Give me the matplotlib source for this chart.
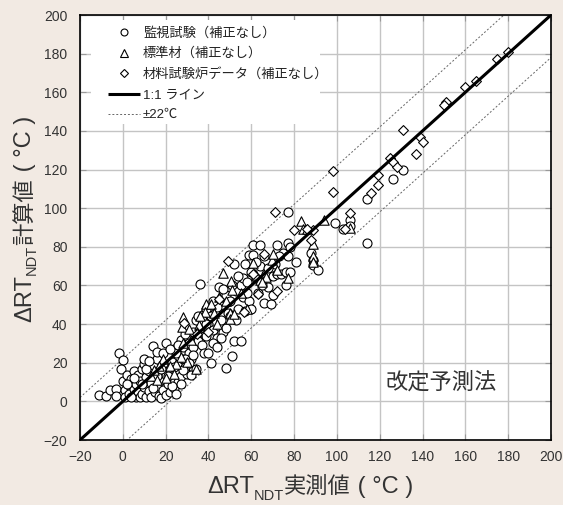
import matplotlib
matplotlib.use("Agg")
import matplotlib.pyplot as plt
from matplotlib.lines import Line2D
from matplotlib.patches import Rectangle

plt.rcParams['font.family'] = ['Liberation Sans', 'Noto Sans CJK JP']

# ---- data ----
surv_pts = [
    (-11, 3.5), (-8, 3), (-6, 6), (-3, 6.5), (-3, 3), (-2, 25), (0, 21.5), (-1, 16.5), (0, 10.5), (1, 6),
    (1, 2.5), (2, 13.5), (3, 8.5), (3, 4), (4, 11.5), (5, 15.5), (5, 6.5), (6, 9), (6, 2.5), (7, 5),
    (7, 13.5), (8, 10.5), (8, 2.5), (9, 16.5), (9, 4), (10, 7.5), (10, 19.5), (10, 22), (11, 12.5), (11, 2.5),
    (12, 5.5), (12, 15.5), (13, 9.5), (13, 2.5), (14, 28.5), (14, 19), (15, 12.5), (15, 5), (16, 8), (16, 22),
    (16, 25.5), (17, 3), (17, 15.5), (18, 11), (18, 2), (19, 6), (19, 19.5), (20, 30), (20, 13.5), (20, 3.5),
    (21, 9), (21, 23.5), (22, 16.5), (22, 5), (23, 12), (23, 20.5), (24, 7), (24, 27), (25, 15), (25, 25),
    (26, 10), (26, 19), (27, 32), (27, 13), (28, 22), (28, 28), (29, 18), (30, 34), (30, 14), (31, 25),
    (31, 30), (32, 22), (32, 13.5), (33, 36), (33, 28),
    (2, 9), (4, 2.5), (5, 12), (9, 9), (11, 17), (12, 21), (14, 7), (16, 13), (18, 17), (19, 25),
    (21, 13), (22, 27), (24, 18), (26, 29), (27, 9), (29, 22), (29, 35), (31, 20), (33, 24), (34, 17),
    (28, 16), (23, 8), (25, 4),
    (34, 42), (35, 31.5), (35, 44), (36, 38), (36, 61), (37, 29), (38, 25), (38, 45), (39, 34), (40, 40),
    (40, 25), (41, 20), (42, 37), (43, 46), (44, 33), (45, 39), (45, 59), (46, 50), (47, 36), (48, 38),
    (48, 17.5), (48, 55), (49, 46), (50, 52), (51, 23.5), (52, 31), (52, 71), (53, 57), (54, 48), (55, 31.5),
    (55, 60), (56, 54), (56, 64), (57, 71), (57, 47), (58, 62), (59, 76), (59, 52), (60, 48), (60, 67),
    (61, 81), (61, 76), (62, 64), (63, 56), (64, 81), (64, 70), (66, 51), (67, 66), (68, 59), (69, 50.5),
    (70, 55), (70, 65), (71, 71), (72, 81), (72, 66), (74, 66), (75, 77), (76, 67), (77, 98), (77, 82),
    (77, 75), (78, 67), (81, 72), (88, 77), (89, 73), (89, 70.5), (91, 68), (99, 92.5), (103, 89), (106, 94),
    (106, 91), (114, 105), (114, 82), (126, 115), (131, 120),
    (37, 42), (39, 48), (41, 44), (42, 30), (44, 49), (46, 42), (47, 58), (50, 44), (51, 60), (53, 42),
    (54, 65), (58, 56), (62, 72), (65, 60), (66, 75), (68, 69), (73, 75), (76, 60), (78, 80), (42, 52),
    (46, 33), (44, 28), (39, 40),
]
std_pts = [
    (83, 93.5), (94, 94), (84, 89), (86, 89), (89, 81.5), (89, 75), (89, 72), (77, 64), (69.5, 73), (70, 76.5),
    (61, 71.5), (62, 65.5), (64, 63), (67, 64.5), (47, 66.5), (50.5, 62.5), (51, 57.5), (50, 46), (50, 42.5), (39, 50.5),
    (41, 50.5), (42.5, 46), (38.5, 46.5), (35.5, 39.5), (34.5, 36), (28, 43.5), (27.5, 38.5), (31, 37.5), (34, 16.5), (30, 20.5),
    (25, 19.5), (19, 22), (17, 18.5), (14.5, 16), (13, 13), (16, 11), (22, 18.5), (27, 23), (45, 54), (52, 45),
    (58, 48), (106, 90), (72, 68), (65, 62), (55, 56), (48, 52), (36, 44), (32, 32), (24, 14), (20, 12),
    (28, 30), (44, 40),
]
mtr_pts = [
    (175, 177), (180, 181), (165, 166), (160, 162.5), (151, 155), (150, 153.5), (131, 140.5), (139, 137), (140, 134.5), (137, 128),
    (125, 126), (126, 124), (128, 121.5), (119, 117), (119, 112), (116, 108), (98, 119.5), (98, 108.5), (106, 97.5), (104, 89),
    (80, 88.5), (89, 88.5), (88, 83.5), (86, 89), (71, 98), (49, 72.5), (66, 76.5), (72, 57), (56.5, 46.5), (45, 53),
    (63, 55.5), (28.5, 40.5), (34.5, 35), (40, 36), (61, 66),
]
surv_x = [p[0] for p in surv_pts]; surv_y = [p[1] for p in surv_pts]
std_x = [p[0] for p in std_pts]; std_y = [p[1] for p in std_pts]
mtr_x = [p[0] for p in mtr_pts]; mtr_y = [p[1] for p in mtr_pts]

line_x = [-20, 200]
band = 22
ticks = list(range(-20, 201, 20))
legend_labels = ['監視試験（補正なし）', '標準材（補正なし）', '材料試験炉データ（補正なし）', '1:1 ライン', '±22℃']

W, H = 563, 505
fig = plt.figure(figsize=(W / 100, H / 100), dpi=100, facecolor='#f2eae3')
ax = fig.add_axes([80 / W, 1 - 440 / H, 471 / W, 425 / H])
ax.set_facecolor('white')
ax.set_xlim(-20, 200)
ax.set_ylim(-20, 200)
ax.set_xticks(ticks)
ax.set_yticks(ticks)
ax.grid(True, color='#c4c4c4', lw=1.0, zorder=0.5)
ax.set_axisbelow(True)
for s in ax.spines.values():
    s.set_color('black'); s.set_linewidth(1.2)
ax.tick_params(direction='in', length=4, color='#999999', top=True, right=True,
               labelsize=10, labelcolor='#333333')
ax.tick_params(axis='x', pad=7)
ax.tick_params(axis='y', pad=9)

# legend background (covers grid)
ax.add_patch(Rectangle((11 / 471, 1 - 109 / 425), 229 / 471, 104 / 425, transform=ax.transAxes,
                       facecolor='white', edgecolor='none', zorder=1))

ax.plot(line_x, [v + band for v in line_x], ls=(0, (2, 2)), color='#666666', lw=0.7, zorder=2)
ax.plot(line_x, [v - band for v in line_x], ls=(0, (2, 2)), color='#666666', lw=0.7, zorder=2)

mk = dict(facecolors='white', edgecolors='black', linewidths=0.8, zorder=3)
ax.scatter(surv_x, surv_y, marker='o', s=42, **mk)
ax.scatter(std_x, std_y, marker='^', s=46, **mk)
ax.scatter(mtr_x, mtr_y, marker='D', s=25, **mk)
ax.plot(line_x, line_x, color='black', lw=2.2, zorder=4)

handles = [
    Line2D([], [], ls='none', marker='o', ms=5, mfc='white', mec='black', mew=0.8),
    Line2D([], [], ls='none', marker='^', ms=5.5, mfc='white', mec='black', mew=0.8),
    Line2D([], [], ls='none', marker='D', ms=4, mfc='white', mec='black', mew=0.8),
    Line2D([], [], color='black', lw=2.2, solid_capstyle='butt'),
    Line2D([], [], color='#666666', lw=0.7, ls=(0, (2, 2))),
]
leg = ax.legend(handles, legend_labels, loc='upper left', bbox_to_anchor=(28 / 471, 1 - 12 / 425),
                frameon=False, fontsize=9.5, borderpad=0, borderaxespad=0, handlelength=2.4,
                handletextpad=0.25, labelspacing=0.6)
for t in leg.get_texts():
    t.set_color('#222222')
leg.set_zorder(6)

ax.text(148.5, 9.5, '改定予測法', fontsize=16, ha='center', va='center', color='#333333', zorder=6)

# x label pieces
tc = '#333333'
x1 = fig.text(207 / W, 12 / H, 'ΔRT', fontsize=17, ha='left', va='baseline', color=tc)
x2 = ax.annotate('NDT', xy=(1, 5), xycoords=(x1, 'figure pixels'), fontsize=10.5, ha='left', va='baseline', color=tc)
x3 = ax.annotate('実測値', xy=(1, 12), xycoords=(x2, 'figure pixels'), fontsize=16, ha='left', va='baseline', color=tc)
x4 = ax.annotate(' ( °C )', xy=(1, 12), xycoords=(x3, 'figure pixels'), fontsize=17, ha='left', va='baseline', color=tc)

# y label pieces
rk = dict(rotation=90, rotation_mode='anchor', ha='left', va='baseline', color=tc)
y1 = fig.text(31 / W, 183 / H, 'ΔRT', fontsize=17, **rk)
y2 = ax.annotate('NDT', xy=(36, 1), xycoords=('figure pixels', y1), fontsize=10.5, **rk)
y3 = ax.annotate('計算値', xy=(31, 1), xycoords=('figure pixels', y2), fontsize=16, **rk)
y4 = ax.annotate(' ( °C )', xy=(31, 1), xycoords=('figure pixels', y3), fontsize=17, **rk)

fig.savefig('out.png', dpi=100, facecolor=fig.get_facecolor())
